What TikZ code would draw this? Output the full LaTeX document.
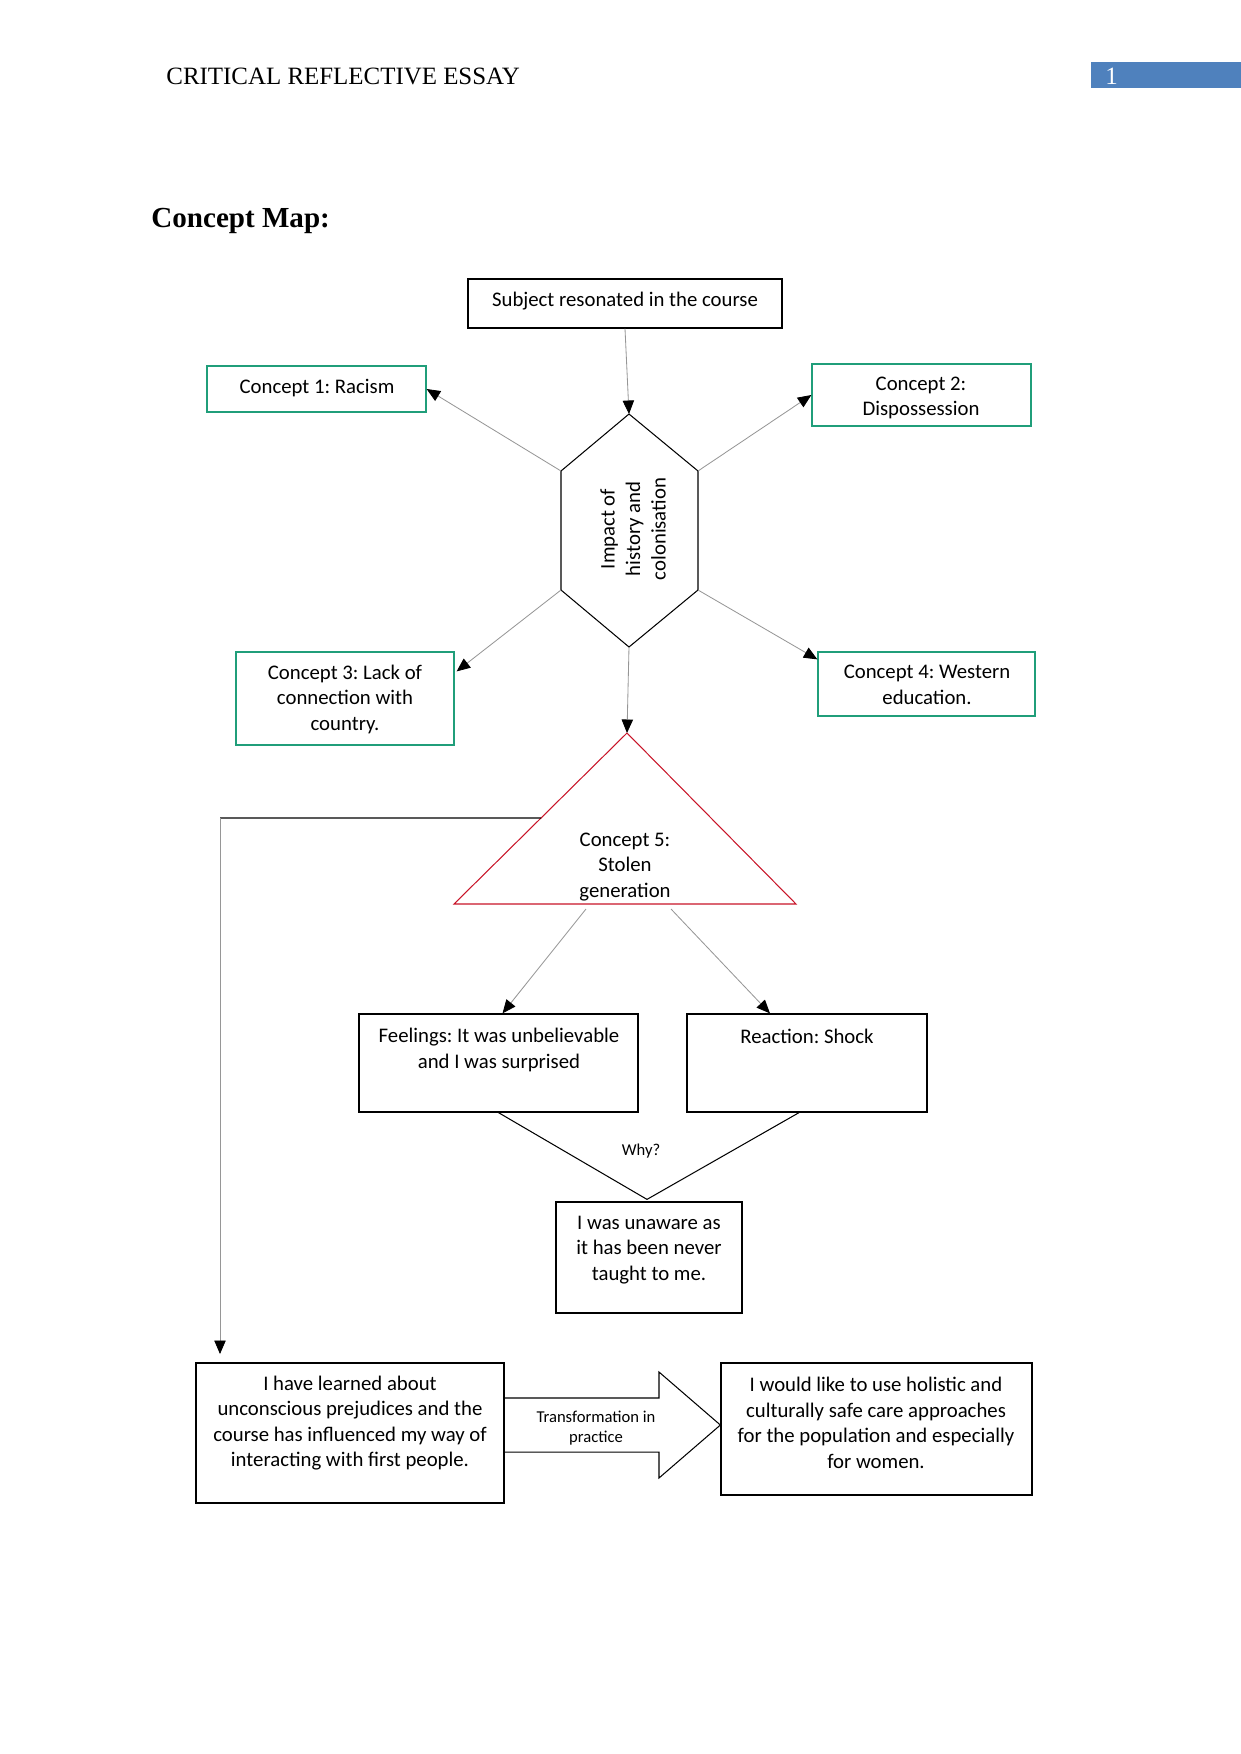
\documentclass[tikz,border=0pt]{standalone}
\usepackage{fontspec}
\setmainfont{Carlito}
\newfontfamily\hdr{Liberation Serif}
\usetikzlibrary{arrows.meta,fit,calc}
\definecolor{cgreen}{RGB}{32,158,122}
\definecolor{cred}{RGB}{200,20,40}
\definecolor{cblue}{RGB}{79,129,189}
\definecolor{cgray}{RGB}{150,150,150}
\frenchspacing
\tikzset{
 bx/.style={draw=black, line width=0.6pt, inner sep=0pt},
 gbx/.style={draw=cgreen, line width=0.6pt, inner sep=0pt},
 txt/.style={align=center, font=\fontsize{10}{12.3}\selectfont, inner sep=0pt},
 small/.style={align=center, font=\fontsize{8}{9.6}\selectfont, inner sep=0pt},
 conn/.style={draw=cgray, line width=0.4pt, -{Triangle[length=6.5pt,width=5.5pt,color=black]}},
 plain/.style={draw=black, line width=0.5pt},
}
\begin{document}
\begin{tikzpicture}[x=0.4816pt,y=-0.4816pt]
\useasboundingbox (0,0) rectangle (1241,1754);
% header
\node[anchor=base west, font=\hdr\fontsize{12}{14}\selectfont, inner sep=0pt] (hd) at (166,84) {CRITICAL REFLECTIVE ESSAY};
\node[fill=cblue, fit={(1091,62)(1241,88)}, inner sep=0pt] (pg) {};
\node[anchor=base west, text=white, font=\hdr\fontsize{12}{14}\selectfont, inner sep=0pt] (pgn) at (1105,84) {1};
\node[anchor=base west, font=\hdr\bfseries\fontsize{14}{16}\selectfont, inner sep=0pt] (cm) at (151,227) {Concept Map:};

% top box
\node[bx, fit={(468,279)(782,328)}] (top) {};
\node[txt] (topt) at (625,301) {Subject resonated in the course};

% concept boxes
\node[gbx, fit={(207,366)(426,412)}] (c1) {};
\node[txt] (c1t) at (317,388) {Concept 1: Racism};
\node[gbx, fit={(812,364)(1031,426)}] (c2) {};
\node[txt] (c2t) at (921,398) {Concept 2:\\Dispossession};
\node[gbx, fit={(236,652)(454,745)}] (c3) {};
\node[txt] (c3t) at (345,699) {Concept 3: Lack of\\connection with\\country.};
\node[gbx, fit={(818,652)(1035,716)}] (c4) {};
\node[txt] (c4t) at (927,685) {Concept 4: Western\\education.};

% hexagon
\coordinate (hT) at (629,414);
\coordinate (hUL) at (561,471);
\coordinate (hLL) at (561,590);
\coordinate (hB) at (629,647);
\coordinate (hLR) at (698,590);
\coordinate (hUR) at (698,471);
\draw[plain] (hT) -- (hUR) -- (hLR) -- (hB) -- (hLL) -- (hUL) -- cycle;
\node[txt, rotate=90] (hex) at (633,529) {Impact of\\history and\\colonisation};

% triangle
\coordinate (tA) at (627,733);
\coordinate (tL) at (454,904);
\coordinate (tR) at (796,904);
\draw[draw=cred, line width=0.5pt] (tA) -- (tR) -- (tL) -- cycle;
\node[txt] (c5) at (625,867) {Concept 5:\\Stolen\\generation};

% connectors around hexagon
\draw[conn] (top.south) -- (hT);
\draw[conn] (hUL) -- (c1.east);
\draw[conn] (hUR) -- (c2.west);
\draw[conn] (hLL) -- ($(c3.north east)+(2,20)$);
\draw[conn] (hLR) -- ($(c4.north west)+(0,8)$);
\draw[conn] (hB) -- (tA);

% feelings / reaction
\node[bx, fit={(359,1014)(638,1112)}] (feel) {};
\node[txt] (feelt) at (499,1050) {Feelings: It was unbelievable\\and I was surprised};
\node[bx, fit={(687,1014)(927,1112)}] (rea) {};
\node[txt] (reat) at (807,1036) {Reaction: Shock};

\coordinate (b1) at (586,909);
\coordinate (b2) at (671,909);
\draw[conn] (b1) -- ($(feel.north)+(4,0)$);
\draw[conn] (b2) -- ($(rea.north)+(-37,0)$);

% unaware
\node[bx, fit={(556,1202)(742,1313)}] (un) {};
\node[txt] (unt) at (649,1250) {I was unaware as\\it has been never\\taught to me.};
\draw[plain] (feel.south) -- ($(un.north)+(-2,-2)$) -- ($(rea.south)+(-8,0)$);
\node[small] (why) at (641,1151) {Why?};

% left connector
\coordinate (tE) at ($(tA)!0.497!(tL)$);
\coordinate (bend) at (220,818);
\coordinate (aend) at (220,1354);
\draw[plain] (tE) -- (bend);
\draw[conn] (bend) -- (aend);

% bottom boxes
\node[bx, fit={(196,1363)(504,1503)}] (learn) {};
\node[txt] (learnt) at (350,1423) {I have learned about\\unconscious prejudices and the\\course has influenced my way of\\interacting with first people.};
\node[bx, fit={(721,1363)(1032,1495)}] (hope) {};
\node[txt] (hopet) at (876,1423) {I would like to use holistic and\\culturally safe care approaches\\for the population and especially\\for women.};

% block arrow
\coordinate (ba1) at ($(learn.east |- 0,1398)$);
\coordinate (ba2) at ($(learn.east |- 0,1452)$);
\draw[plain] (ba1) -- (659,1398) -- (659,1372) -- (hope.west |- 0,1425) -- (659,1478) -- (659,1452) -- (ba2);
\node[small] (tr) at (596,1428) {Transformation in\\practice};
\end{tikzpicture}
\end{document}
